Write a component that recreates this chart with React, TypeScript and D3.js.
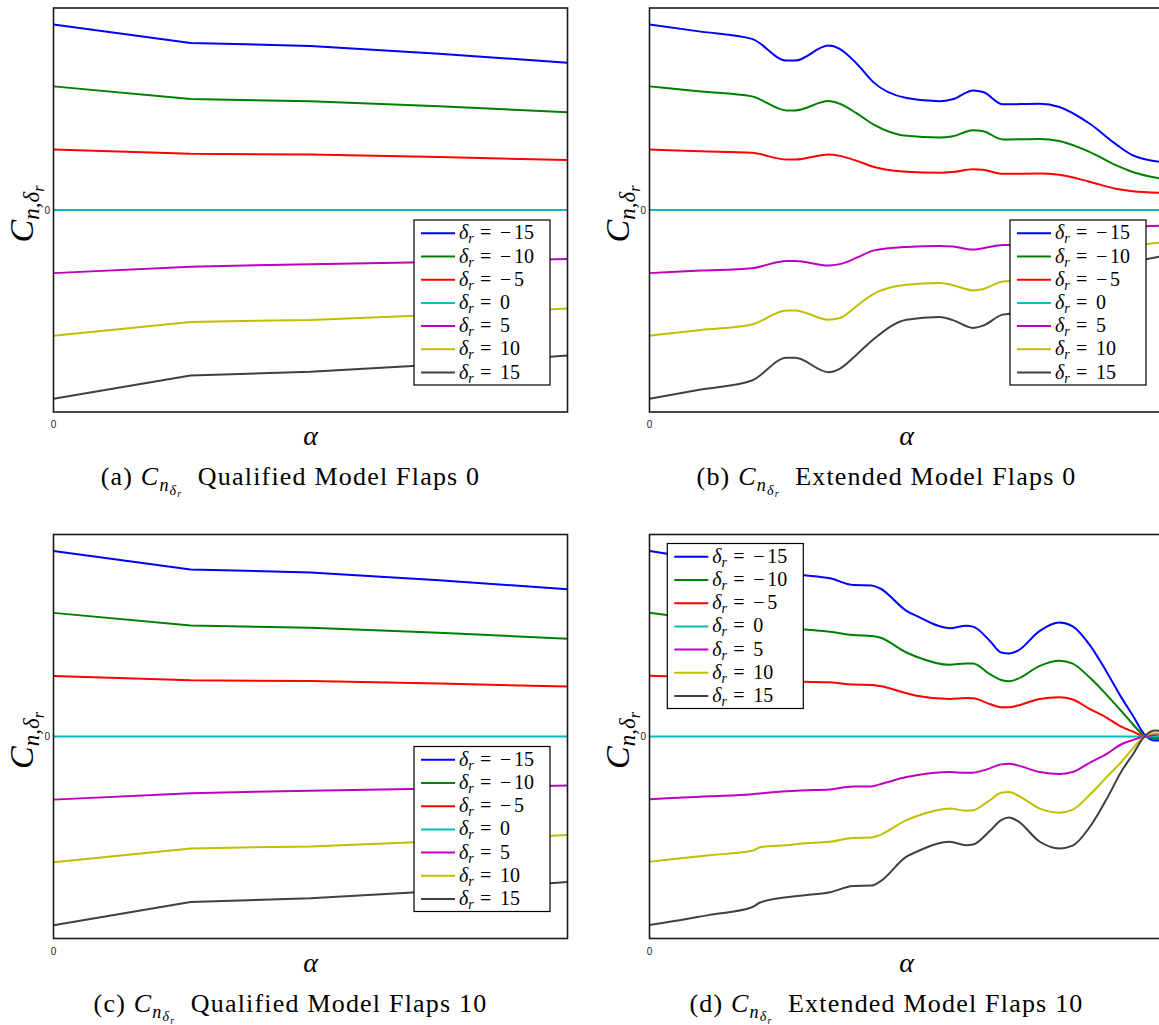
import React from 'react';
import * as d3 from 'd3';

// Rudder deflections and their line colours
const DEFLECTIONS = [-15, -10, -5, 0, 5, 10, 15];
const COLORS = ['#0000ff', '#008000', '#ff0000', '#00bfbf', '#bf00bf', '#bfbf00', '#404040'];

// Qualified model (same table for flaps 0 and flaps 10)
const alphaQual = [0, 4, 7.5, 11.25, 15];
const qualM15 = [0.918, 0.827, 0.812, 0.774, 0.729];
const qualM10 = [0.612, 0.549, 0.538, 0.513, 0.484];
const qualM5 = [0.299, 0.278, 0.275, 0.262, 0.247];
const qualZero = [0, 0, 0, 0, 0];
const qualP5 = [-0.3125, -0.281, -0.268, -0.257, -0.242];
const qualP10 = [-0.622, -0.554, -0.544, -0.518, -0.488];
const qualP15 = [-0.934, -0.819, -0.801, -0.765, -0.72];

// Extended model, flaps 0
const alphaExt0 = [0, 1.5, 2.99, 4.0, 4.25, 5.22, 5.55, 6.05, 6.53, 7.5, 8.46, 8.85, 9.44, 9.74, 10.31, 11.39, 11.96, 12.84, 13.61, 14.1, 15];
const ext0M15 = [0.918, 0.883, 0.847, 0.74, 0.74, 0.814, 0.798, 0.724, 0.633, 0.554, 0.538, 0.548, 0.592, 0.584, 0.523, 0.526, 0.51, 0.428, 0.326, 0.271, 0.236];
const ext0M10 = [0.612, 0.587, 0.5625, 0.493, 0.493, 0.539, 0.526, 0.478, 0.424, 0.367, 0.359, 0.365, 0.395, 0.39, 0.349, 0.352, 0.342, 0.288, 0.222, 0.188, 0.153];
const ext0M5 = [0.299, 0.291, 0.283, 0.25, 0.25, 0.275, 0.268, 0.243, 0.214, 0.189, 0.184, 0.188, 0.202, 0.199, 0.179, 0.181, 0.174, 0.14, 0.105, 0.093, 0.085];
const ext0Zero = [0, 0, 0, 0, 0, 0, 0, 0, 0, 0, 0, 0, 0, 0, 0, 0, 0, 0, 0, 0, 0];
const ext0P5 = [-0.3125, -0.3, -0.288, -0.252, -0.252, -0.275, -0.268, -0.236, -0.201, -0.183, -0.178, -0.181, -0.196, -0.189, -0.173, -0.17, -0.16, -0.125, -0.095, -0.085, -0.078];
const ext0P10 = [-0.622, -0.594, -0.567, -0.497, -0.497, -0.543, -0.535, -0.475, -0.416, -0.37, -0.362, -0.372, -0.398, -0.391, -0.354, -0.345, -0.33, -0.27, -0.205, -0.18, -0.16];
const ext0P15 = [-0.934, -0.889, -0.844, -0.732, -0.732, -0.803, -0.786, -0.715, -0.641, -0.543, -0.53, -0.545, -0.584, -0.572, -0.518, -0.5, -0.48, -0.4, -0.3, -0.262, -0.228];

// Extended model, flaps 10
const alphaExt10 = [0, 0.51, 1.75, 2.99, 3.23, 4.0, 4.47, 5.27, 5.94, 6.48, 6.72, 7.5, 7.79, 8.76, 9.24, 9.44, 9.93, 10.26, 10.5, 10.74, 11.39, 11.96, 12.35, 12.84, 13.32, 13.8, 14.1, 14.43, 14.73, 15];
const ext10M15 = [0.918, 0.905, 0.875, 0.845, 0.826, 0.808, 0.799, 0.783, 0.75, 0.748, 0.734, 0.622, 0.597, 0.536, 0.548, 0.544, 0.474, 0.416, 0.411, 0.424, 0.523, 0.564, 0.545, 0.455, 0.326, 0.185, 0.105, 0.013, -0.02, -0.02];
const ext10M10 = [0.612, 0.602, 0.584, 0.566, 0.55, 0.54, 0.531, 0.518, 0.502, 0.498, 0.49, 0.416, 0.395, 0.355, 0.362, 0.362, 0.309, 0.28, 0.273, 0.285, 0.35, 0.375, 0.361, 0.293, 0.21, 0.12, 0.062, 0.005, -0.01, -0.012];
const ext10M5 = [0.301, 0.298, 0.292, 0.286, 0.282, 0.273, 0.271, 0.268, 0.257, 0.255, 0.25, 0.214, 0.202, 0.186, 0.19, 0.189, 0.161, 0.145, 0.145, 0.153, 0.186, 0.194, 0.183, 0.137, 0.095, 0.046, 0.025, 0.0, -0.003, -0.003];
const ext10Zero = [0, 0, 0, 0, 0, 0, 0, 0, 0, 0, 0, 0, 0, 0, 0, 0, 0, 0, 0, 0, 0, 0, 0, 0, 0, 0, 0, 0, 0, 0];
const ext10P5 = [-0.311, -0.306, -0.296, -0.286, -0.282, -0.271, -0.267, -0.262, -0.248, -0.247, -0.237, -0.201, -0.192, -0.176, -0.18, -0.179, -0.158, -0.138, -0.135, -0.143, -0.176, -0.186, -0.176, -0.13, -0.088, -0.036, -0.018, 0.0, 0.008, 0.01];
const ext10P10 = [-0.62, -0.61, -0.588, -0.566, -0.548, -0.538, -0.53, -0.521, -0.502, -0.5, -0.488, -0.414, -0.395, -0.357, -0.367, -0.365, -0.316, -0.278, -0.275, -0.291, -0.357, -0.377, -0.362, -0.29, -0.205, -0.12, -0.06, 0.0, 0.016, 0.013];
const ext10P15 = [-0.933, -0.92, -0.883, -0.845, -0.822, -0.796, -0.787, -0.771, -0.74, -0.738, -0.719, -0.595, -0.571, -0.521, -0.538, -0.535, -0.468, -0.414, -0.401, -0.418, -0.521, -0.554, -0.54, -0.45, -0.316, -0.165, -0.09, -0.003, 0.03, 0.026];

const ALPHA_DOMAIN: [number, number] = [0, 15];
const CN_DOMAIN: [number, number] = [-1, 1];

const PLOT_W = 514;
const PLOT_H = 404;
const SERIF = '"Liberation Serif", "DejaVu Serif", serif';
const SANS = '"Liberation Sans", Arial, sans-serif';

type PanelProps = {
  id: string;
  x0: number;
  y0: number;
  alpha: number[];
  series: number[][];
  smooth: boolean;
  legendAt: 'br' | 'tl';
  letter: string;
  title: string;
};

function Panel({ id, x0, y0, alpha, series, smooth, legendAt, letter, title }: PanelProps) {
  const x = d3.scaleLinear().domain(ALPHA_DOMAIN).range([0, PLOT_W]);
  const y = d3.scaleLinear().domain(CN_DOMAIN).range([PLOT_H, 0]);
  const line = d3
    .line<number>()
    .x((_, i) => x(alpha[i]))
    .y((d) => y(d))
    .curve(smooth ? d3.curveMonotoneX : d3.curveLinear);

  const legW = 136;
  const legH = 165;
  const legX = legendAt === 'br' ? 360.5 : 17.8;
  const legY = legendAt === 'br' ? y(0) + 10 : 9;
  const rowH = 23.2;

  return (
    <g transform={`translate(${x0},${y0})`}>
      <defs>
        <clipPath id={`clip-${id}`}>
          <rect x={0} y={0} width={PLOT_W} height={PLOT_H} />
        </clipPath>
      </defs>
      <rect x={0} y={0} width={PLOT_W} height={PLOT_H} fill="#fff" />
      <g clipPath={`url(#clip-${id})`}>
        {series.map((s, k) => (
          <path key={k} d={line(s) || ''} fill="none" stroke={COLORS[k]} strokeWidth={2} strokeLinejoin="round" />
        ))}
      </g>
      <rect x={0} y={0} width={PLOT_W} height={PLOT_H} fill="none" stroke="#1a1a1a" strokeWidth={1.6} />

      {/* axis ticks */}
      <text x={-3.5} y={y(0)} dy="0.35em" textAnchor="end" fontFamily={SANS} fontSize={10} fill="#222">
        {d3.format('d')(0)}
      </text>
      <text x={x(0)} y={PLOT_H + 16} textAnchor="middle" fontFamily={SANS} fontSize={10} fill="#222">
        {d3.format('d')(0)}
      </text>

      {/* axis labels */}
      <text x={PLOT_W / 2} y={PLOT_H + 33} textAnchor="middle" fontFamily={SERIF} fontStyle="italic" fontSize={28}>
        α
      </text>
      <text
        transform={`translate(-21,${y(0) + 4}) rotate(-90)`}
        textAnchor="middle"
        fontFamily={SERIF}
        fontStyle="italic"
        fontSize={34}
      >
        C
        <tspan fontSize={23} dy={6}>
          n,δ
        </tspan>
        <tspan fontSize={16} dy={5}>
          r
        </tspan>
      </text>

      {/* caption */}
      <text
        x={PLOT_W / 2 - 20}
        y={PLOT_H + 73}
        textAnchor="middle"
        fontFamily={SERIF}
        fontSize={26}
        letterSpacing={1.2}
      >
        {`(${letter}) `}
        <tspan fontStyle="italic">C</tspan>
        <tspan fontStyle="italic" fontSize={18} dy={6}>
          n
        </tspan>
        <tspan fontStyle="italic" fontSize={14} dy={3.5}>
          δ
        </tspan>
        <tspan fontStyle="italic" fontSize={10} dy={2.5}>
          r
        </tspan>
        <tspan dy={-12}>{`\u00a0\u00a0${title}`}</tspan>
      </text>

      {/* legend */}
      <g transform={`translate(${legX},${legY})`}>
        <rect x={0} y={0} width={legW} height={legH} fill="#fff" stroke="#000" strokeWidth={1.2} />
        {DEFLECTIONS.map((d, k) => {
          const cy = 13.3 + k * rowH;
          const neg = d < 0;
          return (
            <g key={k}>
              <line x1={7} x2={41} y1={cy} y2={cy} stroke={COLORS[k]} strokeWidth={2} />
              <text y={cy + 6} fontFamily={SERIF} fontSize={20}>
                <tspan x={45} fontStyle="italic">
                  δ
                </tspan>
                <tspan fontStyle="italic" fontSize={14} dy={4}>
                  r
                </tspan>
                <tspan x={66} dy={-4}>
                  =
                </tspan>
                {neg ? <tspan x={86}>{'\u2212'}</tspan> : null}
                <tspan x={neg ? 100 : 86}>{String(Math.abs(d))}</tspan>
              </text>
            </g>
          );
        })}
      </g>
    </g>
  );
}

export default function App() {
  const qual = [qualM15, qualM10, qualM5, qualZero, qualP5, qualP10, qualP15];
  const ext0 = [ext0M15, ext0M10, ext0M5, ext0Zero, ext0P5, ext0P10, ext0P15];
  const ext10 = [ext10M15, ext10M10, ext10M5, ext10Zero, ext10P5, ext10P10, ext10P15];
  return (
    <svg
      width={1159}
      height={1025}
      style={{ position: 'absolute', left: 0, top: 0, background: '#fff' }}
    >
      <Panel id="a" x0={53.5} y0={8} alpha={alphaQual} series={qual} smooth={false} legendAt="br" letter="a" title="Qualified Model Flaps 0" />
      <Panel id="b" x0={649.5} y0={8} alpha={alphaExt0} series={ext0} smooth={true} legendAt="br" letter="b" title="Extended Model Flaps 0" />
      <Panel id="c" x0={53.5} y0={534.5} alpha={alphaQual} series={qual} smooth={false} legendAt="br" letter="c" title="Qualified Model Flaps 10" />
      <Panel id="d" x0={649.5} y0={534.5} alpha={alphaExt10} series={ext10} smooth={true} legendAt="tl" letter="d" title="Extended Model Flaps 10" />
    </svg>
  );
}
